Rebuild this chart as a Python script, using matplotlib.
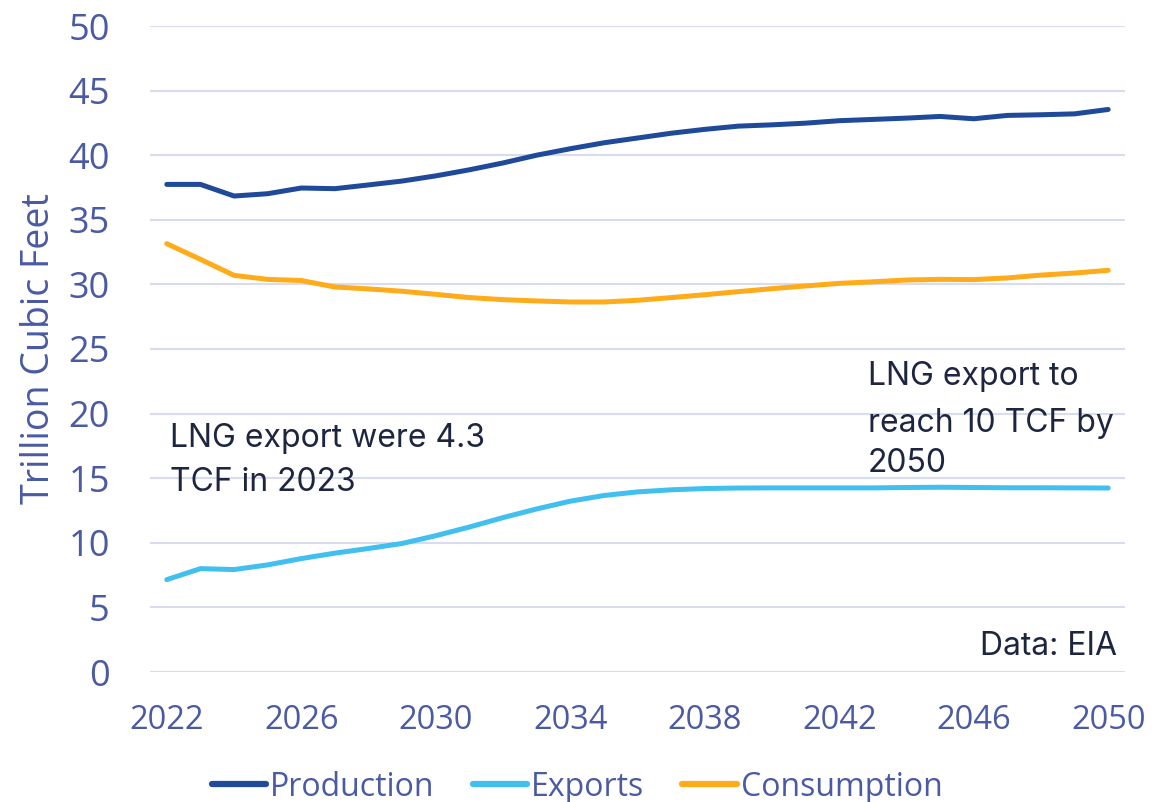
import matplotlib
matplotlib.use("Agg")
import matplotlib.pyplot as plt

years = list(range(2022, 2051))
production = [37.74, 37.74, 36.84, 37.02, 37.46, 37.41, 37.70, 38.00, 38.40, 38.87,
              39.40, 40.00, 40.50, 40.96, 41.33, 41.70, 42.00, 42.25, 42.35, 42.48,
              42.67, 42.77, 42.87, 43.00, 42.82, 43.08, 43.13, 43.20, 43.54]
exports = [7.15, 8.00, 7.93, 8.29, 8.78, 9.20, 9.56, 9.95, 10.55, 11.22,
           11.95, 12.62, 13.22, 13.66, 13.94, 14.10, 14.20, 14.24, 14.25, 14.25,
           14.25, 14.25, 14.28, 14.30, 14.28, 14.26, 14.26, 14.25, 14.24]
consumption = [33.15, 31.94, 30.70, 30.39, 30.30, 29.80, 29.65, 29.47, 29.23, 28.98,
               28.82, 28.72, 28.64, 28.64, 28.77, 28.98, 29.20, 29.44, 29.67, 29.88,
               30.08, 30.20, 30.34, 30.39, 30.37, 30.50, 30.72, 30.88, 31.09]
x_ticks = [2022, 2026, 2030, 2034, 2038, 2042, 2046, 2050]
y_ticks = [0, 5, 10, 15, 20, 25, 30, 35, 40, 45, 50]

C_PROD = "#1f4a99"
C_EXP = "#41bfee"
C_CONS = "#ffab1a"
C_TICK = "#4a5aa3"
C_GRID = "#d9dbee"
C_TEXT = "#1d2540"

fig = plt.figure(figsize=(11.71, 8.02), dpi=100)
ax = fig.add_axes([150 / 1171, 1 - 672 / 802, (1125 - 150) / 1171, (672 - 26) / 802])

lw = 3.6
ax.plot(years, production, color=C_PROD, lw=lw, solid_capstyle="round", label="Production", zorder=3)
ax.plot(years, exports, color=C_EXP, lw=lw, solid_capstyle="round", label="Exports", zorder=3)
ax.plot(years, consumption, color=C_CONS, lw=lw, solid_capstyle="round", label="Consumption", zorder=3)

ax.set_xlim(2021.5, 2050.5)
ax.set_ylim(0, 50)
ax.set_xticks(x_ticks)
ax.set_yticks(y_ticks)
ax.grid(axis="y", color=C_GRID, lw=1.5, zorder=0)
ax.set_axisbelow(True)
for s in ax.spines.values():
    s.set_visible(False)

ax.tick_params(axis="y", length=0, pad=29, labelsize=26, labelcolor=C_TICK)
ax.tick_params(axis="x", length=0, pad=23, labelsize=23.5, labelcolor=C_TICK)
for lab in ax.get_xticklabels() + ax.get_yticklabels():
    lab.set_fontfamily("Open Sans")

ax.set_ylabel("Trillion Cubic Feet", fontsize=27, color=C_TICK, family="Open Sans")
ax.yaxis.set_label_coords(-(150 - 58) / 975, 0.5)

ann_font = dict(fontsize=23, color=C_TEXT, family="Inter")
ax.text(2022.1, 17.4, "LNG export were 4.3", va="baseline", ha="left", **ann_font)
ax.text(2022.1, 14.0, "TCF in 2023", va="baseline", ha="left", **ann_font)
ax.text(2042.85, 22.2, "LNG export to", va="baseline", ha="left", **ann_font)
ax.text(2042.85, 18.6, "reach 10 TCF by", va="baseline", ha="left", **ann_font)
ax.text(2042.85, 15.5, "2050", va="baseline", ha="left", **ann_font)
ax.text(2050.25, 1.3, "Data: EIA", va="baseline", ha="right", **ann_font)

leg = fig.legend(loc="center", bbox_to_anchor=(577 / 1171, 1 - 787 / 802), ncol=3,
                 frameon=False, prop={"family": "Open Sans", "size": 23},
                 handlelength=1.7, handletextpad=0.12, columnspacing=1.2)
for t in leg.get_texts():
    t.set_color(C_TICK)
for h in leg.get_lines():
    h.set_linewidth(4.5)
    h.set_solid_capstyle("round")

fig.savefig("out.png", dpi=100)
